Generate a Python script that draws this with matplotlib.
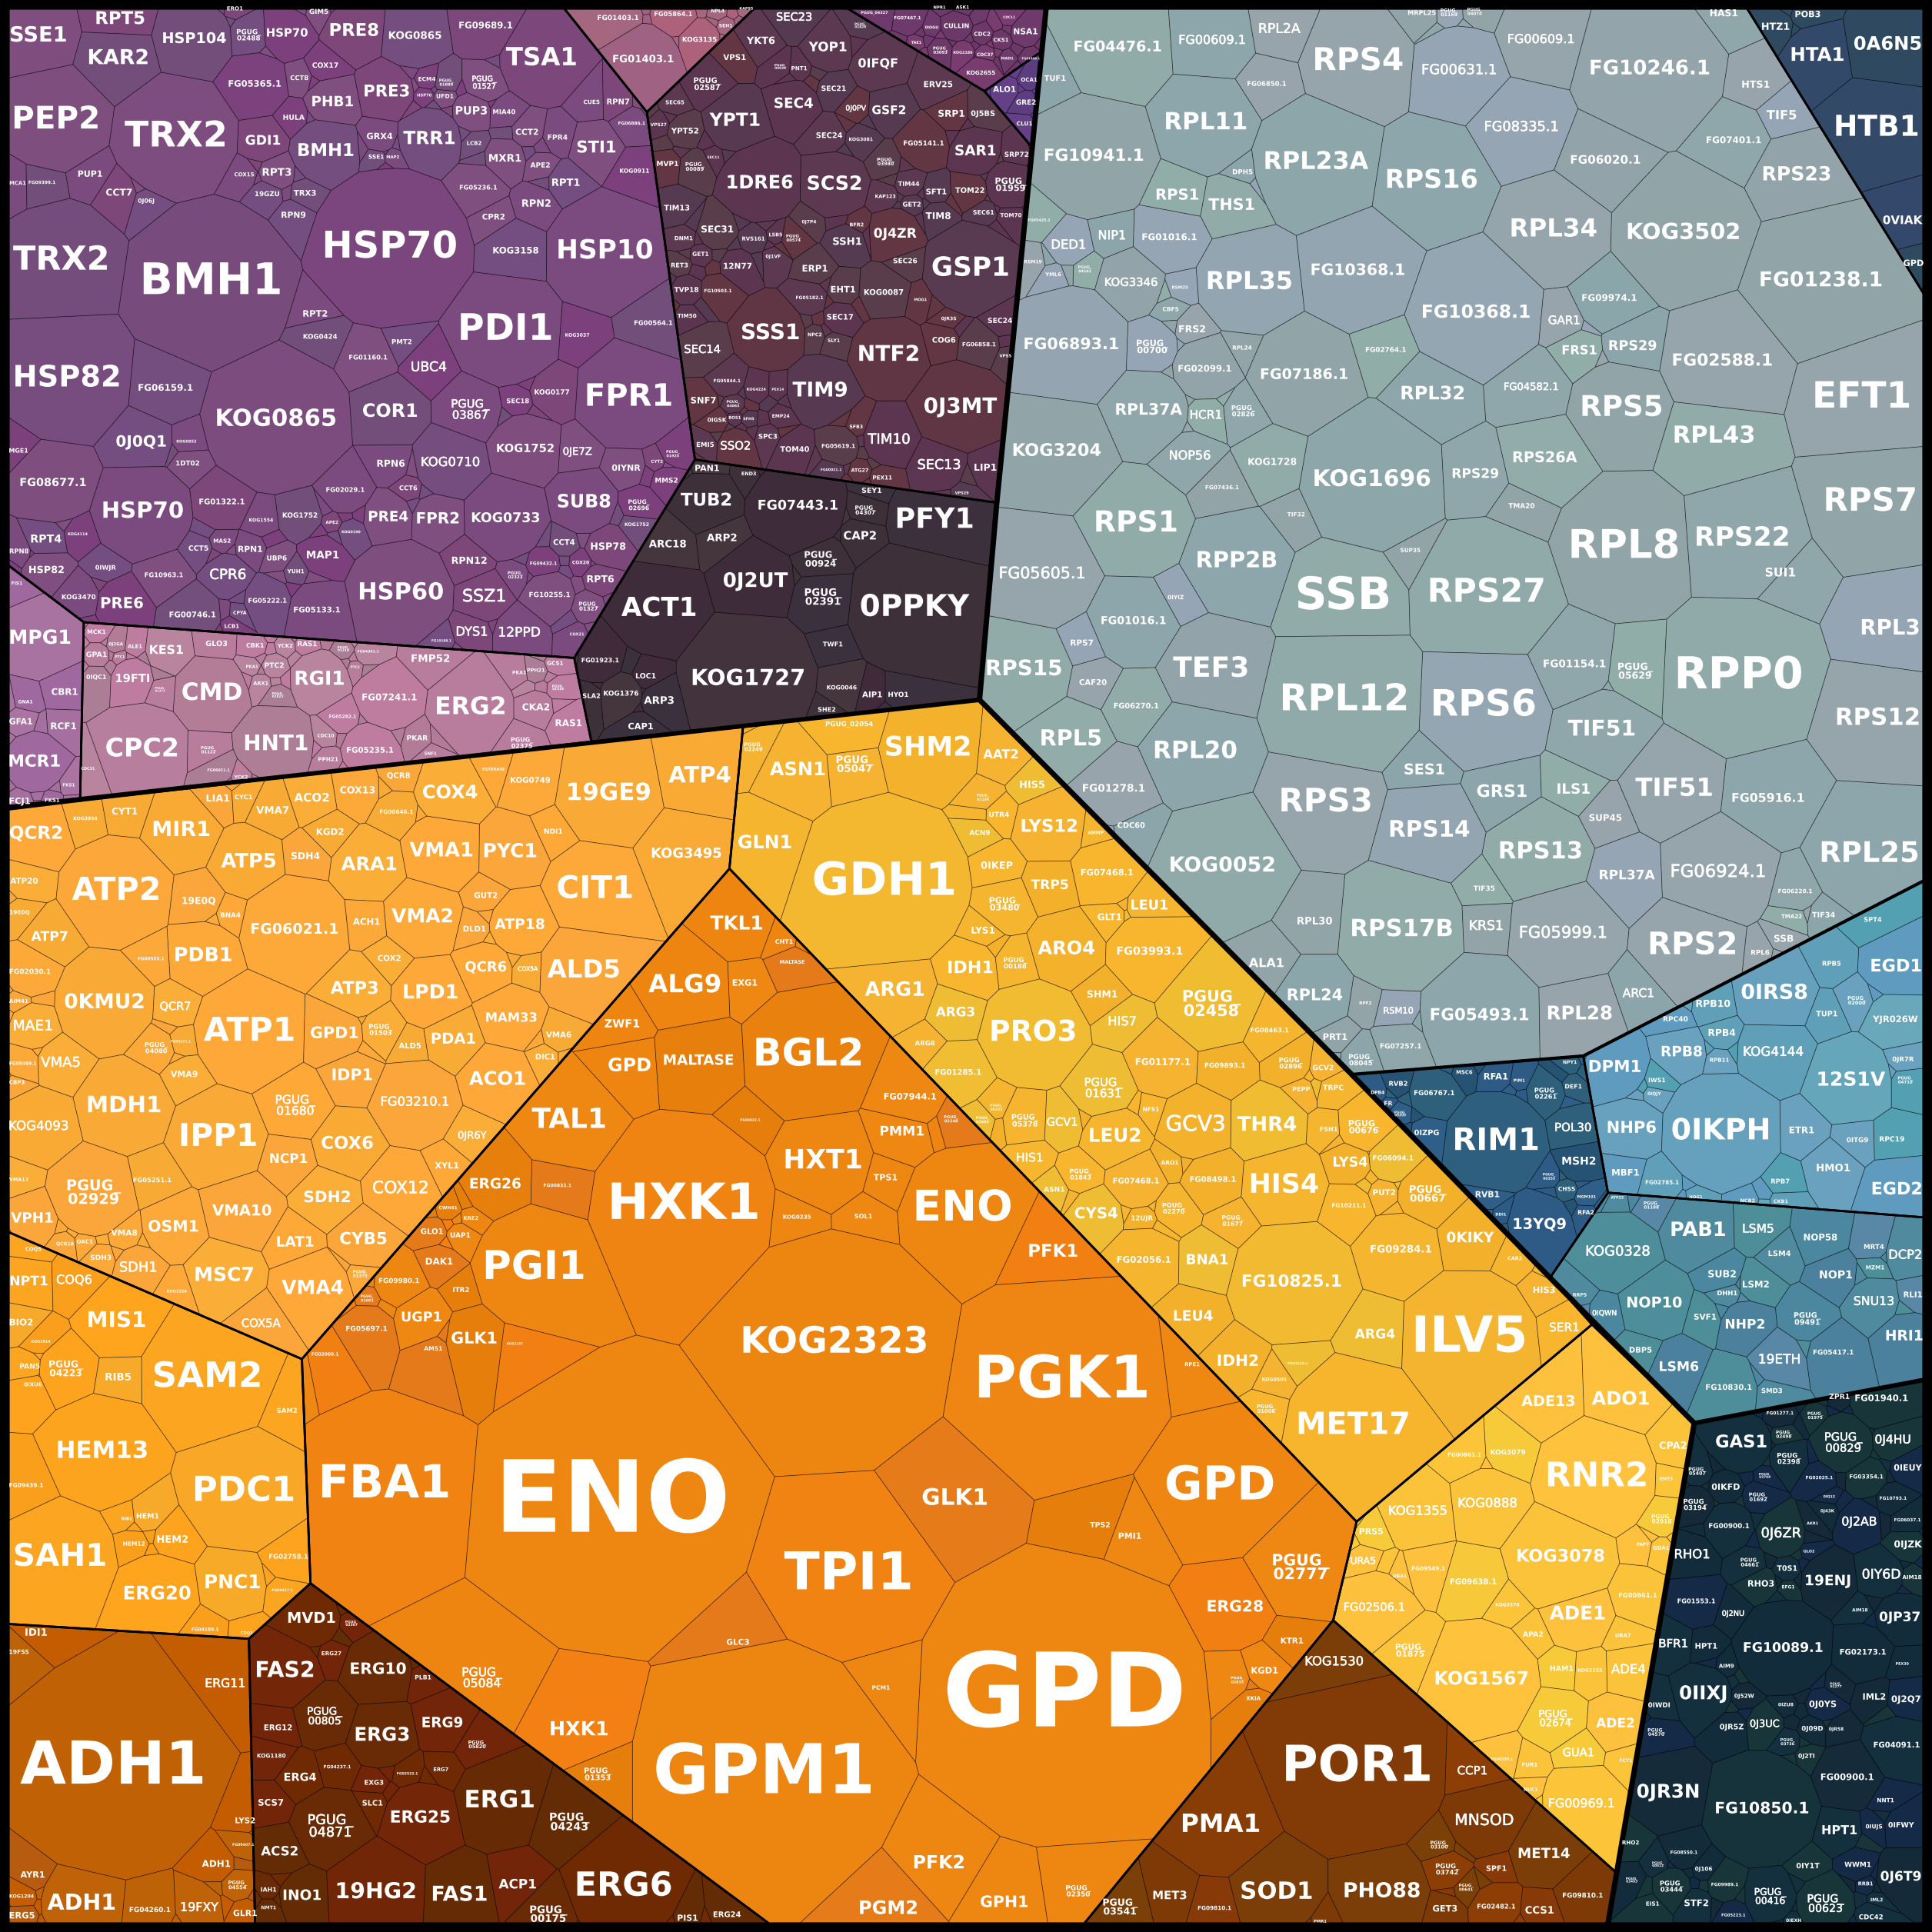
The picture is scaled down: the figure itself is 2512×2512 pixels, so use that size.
"""Voronoi treemap of yeast protein abundance, rebuilt as a weighted power diagram."""
import zlib

import matplotlib
matplotlib.use("Agg")
import matplotlib.pyplot as plt
import matplotlib.patheffects as pe
from matplotlib.colors import to_rgb
from matplotlib.font_manager import FontProperties
from matplotlib.path import Path
from matplotlib.textpath import TextPath
import numpy as np

SIZE = 2512
MAIN = SIZE / 1568

# ---- labels, one block per crop: name, label width, site
PURPLE_NAMES = [
    "SSE1", "RPT5", "KAR2", "HSP104", "PGUG_02488", "HSP70",
    "PRE8", "KOG0865", "FG09689.1", "TSA1", "ERO1", "GIM5",
    "COX17", "FG05365.1", "CCT8", "PRE3", "PHB1", "HULA",
    "ECM4", "PGUG_01889", "PGUG_01527", "UFD1", "HSP70", "PUP3",
    "MIA40", "CCT2", "CUE5", "RPN7", "FG06886.1", "FPR4",
    "STI1", "PEP2", "TRX2", "GDI1", "BMH1", "GRX4",
    "TRR1", "LCB2", "MXR1", "APE2", "KOG0911", "SSE1",
    "MAP2", "PUP1", "MCA1", "FG09399.1", "CCT7", "COX15",
    "RPT3", "19GZU", "TRX3", "RPT1", "FG05236.1", "RPN2",
    "0J06J", "RPN9", "CPR2", "TRX2", "BMH1", "HSP70",
    "KOG3158", "HSP10", "PDI1", "RPT2", "FG00564.1", "KOG3037",
    "HSP82", "KOG0424", "PMT2", "UBC4", "FG01160.1", "KOG0177",
    "FPR1", "FG06159.1", "SEC18", "COR1", "PGUG_03867", "KOG0865",
    "0J0Q1", "KOG1752", "0JE7Z", "MGE1", "KOG0852", "1DT02",
    "RPN6", "KOG0710", "0IYNR", "PGUG_01925", "CYT2", "MMS2",
    "FG08677.1", "SUB8", "PGUG_02696", "HSP70", "FG01322.1", "FG02029.1",
    "KOG0733", "PRE4", "FPR2", "KOG1752", "KOG1554", "APE2",
    "KOG0190", "KOG1752", "CCT6", "KOG4114", "RPT4", "CCT4",
    "MAS2", "CCT5", "RPN1", "HSP78", "RPN8", "HSP82",
    "0IWJR", "UBP6", "MAP1", "RPN12", "FG09432.1", "COX20",
    "CPR6", "FG10963.1", "YUH1", "RPT6", "HSP60", "SSZ1",
    "FG10255.1", "PGUG_02323", "PRE6", "KOG3470", "FG05222.1", "FG05133.1",
    "FG00746.1", "PGUG_01327", "FIS1", "CPYA", "DYS1", "12PPD",
    "LCB1", "COX21", "FG10188.1", "FG01403.1", "FG01403.1", "FG05864.1",
]
PURPLE_WIDTHS = [
    125, 108, 132, 142, 55, 92,
    108, 118, 120, 158, 35, 42,
    58, 118, 40, 100, 92, 48,
    38, 32, 55, 38, 32, 70,
    50, 50, 36, 50, 60, 44,
    86, 188, 226, 78, 124, 58,
    116, 32, 72, 44, 66, 34,
    28, 54, 36, 60, 58, 44,
    64, 54, 50, 62, 84, 64,
    36, 54, 50, 212, 308, 296,
    102, 212, 204, 54, 86, 54,
    234, 76, 44, 78, 86, 78,
    190, 122, 50, 122, 85, 268,
    112, 128, 64, 42, 44, 52,
    62, 130, 64, 30, 26, 50,
    148, 118, 48, 180, 102, 86,
    152, 88, 94, 78, 54, 28,
    42, 54, 40, 44, 68, 48,
    38, 44, 54, 78, 42, 78,
    46, 44, 72, 78, 60, 38,
    80, 86, 38, 60, 188, 94,
    92, 34, 94, 76, 86, 104,
    104, 44, 24, 30, 68, 92,
    32, 32, 44, 92, 136, 85,
]
PURPLE_SITES = [
    (87, 82), (272, 43), (268, 133), (440, 88), (563, 80), (650, 75),
    (802, 70), (940, 82), (1100, 58), (1227, 133), (532, 20), (722, 27),
    (737, 149), (577, 191), (678, 177), (876, 208), (753, 232), (665, 267),
    (967, 180), (1011, 187), (1097, 187), (1008, 218), (961, 216), (1068, 252),
    (1142, 254), (1194, 300), (1340, 232), (1400, 231), (1431, 280), (1263, 312),
    (1351, 335), (127, 272), (399, 310), (596, 319), (738, 342), (860, 310),
    (973, 315), (1074, 325), (1144, 360), (1224, 375), (1437, 387), (852, 356),
    (890, 356), (204, 395), (40, 415), (95, 414), (270, 437), (553, 396),
    (627, 391), (605, 440), (691, 438), (1282, 415), (1083, 425), (1215, 462),
    (331, 455), (665, 488), (1118, 492), (139, 590), (478, 640), (883, 560),
    (1168, 568), (1370, 569), (1145, 748), (714, 712), (1480, 732), (1307, 760),
    (152, 858), (725, 763), (910, 775), (971, 832), (834, 810), (1250, 889),
    (1424, 900), (375, 879), (1173, 909), (884, 932), (1065, 928), (625, 950),
    (320, 1002), (1190, 1016), (1308, 1024), (42, 1021), (422, 1000), (425, 1050),
    (885, 1051), (1020, 1048), (1418, 1061), (1524, 1028), (1488, 1046), (1510, 1089),
    (120, 1094), (1323, 1137), (1447, 1144), (323, 1159), (502, 1137), (782, 1110),
    (1145, 1174), (879, 1172), (992, 1176), (680, 1168), (591, 1179), (752, 1184),
    (795, 1205), (1442, 1189), (925, 1106), (176, 1210), (104, 1222), (1278, 1229),
    (503, 1226), (450, 1243), (567, 1245), (1377, 1239), (43, 1249), (105, 1292),
    (239, 1286), (627, 1265), (731, 1258), (1063, 1271), (1231, 1277), (1315, 1275),
    (516, 1303), (371, 1303), (670, 1295), (1360, 1313), (908, 1343), (1097, 1352),
    (1245, 1348), (1167, 1303), (276, 1368), (178, 1353), (606, 1361), (718, 1382),
    (436, 1393), (1333, 1374), (38, 1322), (543, 1389), (1069, 1432), (1176, 1433),
    (525, 1419), (1307, 1437), (1000, 1452), (1400, 41), (1457, 135), (1525, 32),
]

MAROON_NAMES = [
    "KOG3135", "SEH1", "NPL4", "KAP95", "SEC23", "YKT6",
    "YOP1", "VPS1", "0IFQF", "PGUG_04039", "PNT1", "PGUG_01828",
    "PGUG_02587", "SEC21", "SEC4", "SEC65", "GSF2", "0J0PV",
    "YPT1", "ERV25", "SRP1", "0J5BS", "VPS27", "YPT52",
    "SEC24", "KOG3081", "FG05141.1", "SAR1", "SRP72", "MVP1",
    "PGUG_00089", "PGUG_03980", "SEC11", "1DRE6", "SCS2", "TIM44",
    "SFT1", "TOM22", "PGUG_01959", "TIM13", "KAP123", "GET2",
    "TIM8", "SEC61", "TOM70", "SEC31", "RVS161", "LSB5",
    "PGUG_00574", "SSH1", "0J4ZR", "DNM1", "0J7P4", "BFR2",
    "GSP1", "GET1", "SEC26", "RET3", "12N77", "ERP1",
    "0J1VF", "TVP18", "FG10503.1", "EHT1", "KOG0087", "FG05182.1",
    "MOG1", "SEC17", "TIM50", "SEC24", "0JR3S", "SSS1",
    "COG6", "NPC2", "SLY1", "FG06858.1", "SEC14", "NTF2",
    "VPS5", "FG05844.1", "TIM9", "PEX14", "KOG4224", "SNF7",
    "PGUG_04063", "0J3MT", "0IGSK", "BOS1", "SFH5", "EMP24",
    "SFB3", "SPC3", "TIM10", "EMI5", "SSO2", "TOM40",
    "FG05619.1", "SEC13", "LIP1", "ATG27", "FG00021.1", "PEX11",
    "VPS29", "PGUG_04327", "FG07467.1", "CULLIN", "0IOGU", "PGUG_03093",
    "KOG2186", "CDC2", "CDC37", "NSA1", "CKS1", "TAE1",
    "MAD1", "KOG2655", "CDC11", "NPR1", "ASK1", "ALO1",
    "OCA1", "GRE2", "CLU1", "FG01808.1", "PAN1", "TUB2",
    "FG07443.1", "END3", "SEY1", "PGUG_04307", "PFY1",
]
MAROON_WIDTHS = [
    115, 44, 44, 45, 118, 95,
    128, 76, 132, 40, 52, 40,
    92, 82, 130, 62, 112, 68,
    170, 96, 88, 80, 54, 92,
    88, 80, 136, 136, 80, 72,
    64, 58, 40, 220, 180, 72,
    68, 98, 105, 86, 68, 60,
    84, 70, 72, 108, 76, 44,
    50, 96, 144, 60, 48, 46,
    256, 54, 80, 56, 94, 84,
    50, 82, 92, 82, 132, 92,
    42, 88, 64, 82, 50, 192,
    78, 46, 40, 112, 120, 200,
    40, 90, 184, 40, 64, 84,
    44, 246, 64, 40, 36, 58,
    44, 62, 142, 58, 98, 98,
    112, 142, 74, 58, 70, 64,
    46, 90, 90, 84, 44, 50,
    64, 54, 54, 80, 50, 34,
    40, 96, 40, 40, 44, 76,
    54, 66, 52, 60, 80, 170,
    268, 48, 66, 70, 255,
]
MAROON_SITES = [
    (286, 116), (375, 76), (348, 33), (445, 25), (608, 50), (495, 120),
    (723, 138), (406, 168), (893, 186), (561, 195), (625, 200), (833, 75),
    (312, 245), (742, 259), (606, 303), (202, 299), (930, 322), (817, 316),
    (407, 352), (1097, 247), (1142, 332), (1249, 331), (147, 364), (237, 382),
    (727, 395), (834, 407), (1047, 418), (1224, 441), (1364, 451), (178, 478),
    (270, 486), (918, 472), (333, 458), (491, 533), (745, 537), (998, 536),
    (1091, 559), (1205, 555), (1343, 539), (209, 606), (917, 573), (1008, 596),
    (1098, 630), (1251, 619), (1345, 628), (347, 669), (469, 696), (545, 685),
    (606, 694), (788, 705), (951, 681), (232, 695), (658, 647), (820, 656),
    (1207, 782), (290, 741), (985, 761), (218, 773), (416, 776), (678, 783),
    (536, 748), (242, 845), (349, 848), (774, 845), (912, 852), (660, 868),
    (1037, 873), (764, 924), (244, 921), (1307, 935), (1133, 929), (527, 970),
    (1117, 991), (678, 976), (742, 993), (1236, 1004), (296, 1018), (929, 1033),
    (1326, 1037), (380, 1110), (696, 1139), (552, 1135), (479, 1134), (299, 1167),
    (400, 1176), (1172, 1185), (345, 1224), (406, 1217), (453, 1220), (562, 1213),
    (819, 1244), (518, 1272), (930, 1281), (305, 1296), (409, 1299), (610, 1309),
    (758, 1300), (1100, 1355), (1257, 1363), (831, 1371), (733, 1368), (907, 1392),
    (1178, 1436), (880, 38), (993, 53), (1159, 76), (1075, 80), (1105, 147),
    (1181, 153), (1247, 100), (1256, 160), (1394, 93), (1311, 117), (1023, 124),
    (1332, 170), (1242, 213), (1338, 51), (1102, 22), (1180, 22), (1323, 261),
    (1406, 233), (1396, 299), (1390, 361), (1412, 171), (312, 1365), (310, 1458),
    (620, 1473), (454, 1381), (871, 1430), (850, 1487), (1085, 1515),
]

NAVY_NAMES = [
    "GAS1", "PGUG_00829", "0J4HU", "PGUG_02398", "PGUG_02498", "0IEUY",
    "FG03354.1", "FG02025.1", "PGUG_05407", "0IKFD", "PGUG_03794", "PGUG_01692",
    "PGUG_03194", "FG10793.1", "FG00900.1", "0J2AB", "0J6ZR", "FG06037.1",
    "RHO1", "0IJZK", "PGUG_04661", "T0S1", "19ENJ", "0IY6D",
    "AIM18", "RHO3", "EFG1", "FG01553.1", "0J2NU", "AIM18",
    "0JP37", "BFR1", "HPT1", "FG10089.1", "FG02173.1", "AIM9",
    "0IIXJ", "0J52W", "PGUG_01277", "IML2", "0J2Q7", "0IWDI",
    "0IZU8", "0J0YS", "PGUG_04570", "0JR5Z", "0J3UC", "0J09D",
    "0JR58", "PGUG_03736", "FG04091.1", "0J2TI", "0JR3N", "FG00900.1",
    "FG10850.1", "HPT1", "NNT1", "0IFWY", "0IUJS", "RHO2",
    "FG08550.1", "WWM1", "0IY1T", "0J106", "0J6T9", "PGUG_03444",
    "FG09989.1", "RRB1", "PGUG_00416", "PGUG_00623", "EIS1", "STF2",
    "IML2", "FG05223.1", "CDC42", "0IEXH", "ZPR1", "FG01940.1",
    "FG01277.1", "PGUG_01975", "0J43K", "GLO2", "0IQ12", "AKR1",
    "PEX30", "PGUG_03493", "PGUG_00512",
]
NAVY_WIDTHS = [
    196, 145, 135, 92, 62, 108,
    130, 104, 68, 108, 46, 72,
    92, 104, 156, 132, 152, 102,
    132, 108, 72, 78, 172, 146,
    74, 100, 48, 146, 84, 60,
    156, 108, 84, 306, 178, 58,
    180, 76, 46, 86, 112, 84,
    58, 104, 66, 92, 112, 82,
    56, 56, 178, 62, 238, 204,
    360, 134, 64, 100, 64, 64,
    104, 102, 90, 66, 156, 90,
    104, 56, 122, 140, 50, 92,
    46, 92, 92, 58, 78, 204,
    104, 60, 54, 42, 44, 44,
    50, 46, 46,
]
NAVY_SITES = [
    (792, 166), (1190, 167), (1383, 159), (977, 213), (958, 144), (1441, 240),
    (1280, 265), (1096, 268), (620, 250), (731, 295), (884, 262), (858, 323),
    (612, 345), (1384, 327), (743, 406), (1252, 394), (947, 427), (1440, 389),
    (600, 488), (1441, 459), (825, 510), (971, 527), (1130, 563), (1338, 545),
    (1458, 553), (868, 572), (975, 581), (617, 621), (760, 656), (1255, 647),
    (1411, 667), (527, 743), (655, 750), (955, 755), (1266, 767), (734, 807),
    (644, 886), (803, 893), (1161, 862), (1310, 896), (1435, 902), (471, 919),
    (965, 918), (1110, 917), (460, 997), (754, 981), (883, 973), (1069, 986),
    (1162, 988), (973, 1024), (1398, 1033), (1047, 1064), (507, 1168), (1204, 1125),
    (873, 1216), (1175, 1278), (1355, 1192), (1415, 1263), (1310, 1267), (360, 1313),
    (568, 1341), (1247, 1376), (1052, 1379), (645, 1388), (1415, 1410), (520, 1438),
    (727, 1433), (1277, 1430), (905, 1467), (1120, 1488), (446, 1488), (617, 1486),
    (1320, 1477), (762, 1520), (1298, 1526), (996, 1536), (1175, 36), (1338, 40),
    (943, 83), (1080, 90), (1128, 363), (1056, 478), (1135, 321), (1070, 398),
    (1420, 800), (365, 1420), (467, 1375),
]

BROWN_NAMES = [
    "PDC1", "SAH1", "HEM1", "HEM2", "HEM12", "ERG20",
    "PNC1", "FG02758.1", "FG09417.1", "FG04189.1", "COQ3", "FG09439.1",
    "RIB1", "IDI1", "19FSS", "ADH1", "ERG11", "MVD1",
    "PGUG_02307", "FAS2", "ERG27", "ERG10", "PLB1", "PGUG_00805",
    "ERG12", "ERG3", "ERG9", "PGUG_05820", "KOG1180", "ERG4",
    "FG04237.1", "ERG7", "EXG3", "FG02522.1", "SCS7", "SLC1",
    "PGUG_04871", "ERG25", "ERG1", "ACS2", "LYS2", "FG09407.1",
    "ADH1", "PGUG_04554", "AYR1", "KOG1204", "ADH1", "FG04260.1",
    "19FXY", "GLR1", "ERG5", "INO1", "19HG2", "FAS1",
    "ACP1", "IAH1", "NMT1",
]
BROWN_WIDTHS = [
    285, 262, 64, 88, 62, 192,
    158, 112, 60, 78, 34, 98,
    30, 62, 56, 530, 112, 136,
    36, 164, 56, 160, 46, 100,
    80, 154, 116, 52, 82, 92,
    78, 42, 54, 60, 72, 58,
    130, 170, 196, 106, 56, 62,
    82, 54, 70, 70, 196, 118,
    108, 68, 72, 108, 226, 156,
    108, 44, 42,
]
BROWN_SITES = [
    (710, 100), (175, 320), (430, 184), (503, 262), (390, 276), (457, 442),
    (677, 405), (840, 318), (822, 429), (597, 561), (718, 572), (76, 81),
    (369, 192), (105, 572), (55, 635), (330, 1020), (656, 741), (907, 524),
    (1024, 541), (830, 698), (965, 641), (1101, 694), (1232, 720), (945, 850),
    (810, 888), (1113, 913), (1288, 873), (1390, 945), (790, 982), (874, 1053),
    (982, 1019), (1284, 1027), (1089, 1071), (1186, 1040), (789, 1138), (1085, 1139),
    (962, 1217), (1224, 1188), (1455, 1131), (815, 1300), (714, 1198), (709, 1277),
    (630, 1342), (692, 1412), (95, 1379), (62, 1450), (238, 1473), (436, 1495),
    (580, 1487), (714, 1507), (64, 1515), (880, 1447), (1095, 1435), (1338, 1446),
    (1508, 1410), (782, 1427), (782, 1488),
]

ATP_NAMES = [
    "QCR2", "MIR1", "KOG3954", "CYT1", "LIA1", "CYC1",
    "VMA7", "ACO2", "KGD2", "NDI1", "PYC1", "VMA1",
    "ARA1", "ATP5", "SDH4", "ATP2", "ATP20", "19E0Q",
    "BNA4", "GUT2", "ATP18", "VMA2", "ACH1", "FG06021.1",
    "DLD1", "19E0Q", "ATP7", "PDB1", "COX2", "FG09555.1",
    "QCR6", "COX5A", "ATP3", "LPD1", "FG02030.1", "0KMU2",
    "QCR7", "MAM33", "AIM41", "ATP1", "GPD1", "PGUG_01503",
    "PDA1", "ALD5", "VMA6", "MAE1", "PGUG_04080", "FG05171.1",
    "VMA5", "VMA9", "FG08489.1", "IDP1", "ACO1", "DIC1",
    "CBP3", "MDH1", "PGUG_01680", "FG03210.1", "KOG4093", "IPP1",
    "0JR6Y", "COX6", "NCP1", "FG05251.1", "PGUG_02929", "XYL1",
    "VMA13", "COX12", "SDH2", "VMA10", "VPH1", "OSM1",
    "VMA8", "LAT1", "CYB5", "OAC1", "QCR10", "MSC7",
    "SDH3", "SDH1", "VMA4", "COX5A", "KOG1526", "PGUG_03375",
    "NPT1", "COQ6", "COQ5", "MIS1", "BIO2", "SAM2",
    "PGUG_04223", "RIB5", "PAN5", "0IXU6", "KOG2914", "TAL1",
    "ERG26", "PGI1", "GLO1", "UAP1", "KRE2", "CWH41",
    "DAK1", "FG09980.1", "ITR2", "UGP1", "FG05697.1", "GLK1",
    "AMS1", "FG02060.1", "PGUG_01001", "FG00832.1", "KOG1187",
]
ATP_WIDTHS = [
    132, 142, 60, 64, 58, 44,
    82, 88, 68, 46, 132, 160,
    140, 138, 72, 220, 70, 84,
    50, 58, 126, 154, 68, 220,
    56, 50, 92, 142, 58, 66,
    104, 50, 120, 136, 104, 200,
    76, 128, 48, 228, 120, 60,
    110, 56, 64, 96, 58, 50,
    98, 68, 68, 100, 142, 48,
    38, 184, 100, 170, 148, 190,
    72, 130, 94, 96, 136, 60,
    48, 138, 116, 150, 106, 126,
    66, 92, 118, 40, 44, 146,
    52, 92, 156, 98, 50, 38,
    94, 88, 40, 144, 58, 268,
    86, 64, 50, 44, 48, 186,
    128, 248, 56, 50, 36, 46,
    68, 102, 40, 100, 104, 114,
    46, 68, 34, 70, 40,
]
ATP_SITES = [
    (92, 106), (462, 98), (217, 68), (318, 50), (555, 17), (621, 13),
    (695, 48), (795, 15), (841, 102), (1410, 101), (1300, 152), (1125, 150),
    (941, 185), (634, 178), (778, 164), (297, 253), (62, 227), (506, 278),
    (587, 314), (1238, 264), (1325, 338), (1077, 318), (934, 331), (750, 350),
    (1209, 349), (50, 307), (127, 369), (518, 417), (992, 424), (385, 425),
    (1238, 447), (1345, 450), (904, 502), (1097, 512), (76, 458), (267, 537),
    (447, 547), (1303, 576), (48, 533), (636, 610), (852, 615), (970, 606),
    (1155, 630), (1045, 647), (1424, 619), (84, 596), (398, 652), (461, 636),
    (155, 690), (470, 720), (58, 692), (897, 722), (1268, 732), (1389, 675),
    (43, 740), (316, 800), (752, 799), (1057, 790), (98, 851), (556, 880),
    (1203, 876), (885, 896), (735, 935), (388, 989), (238, 1022), (1139, 953),
    (48, 988), (1021, 1010), (834, 1034), (617, 1068), (82, 1087), (442, 1109),
    (317, 1124), (752, 1148), (926, 1140), (216, 1146), (165, 1152), (571, 1232),
    (257, 1187), (352, 1212), (797, 1265), (665, 1354), (450, 1272), (918, 1228),
    (74, 1247), (189, 1244), (85, 1165), (297, 1347), (54, 1352), (528, 1491),
    (168, 1470), (301, 1492), (76, 1464), (84, 1510), (104, 1400), (1451, 836),
    (1262, 999), (1361, 1213), (1101, 1120), (1173, 1130), (1200, 1086), (1142, 1060),
    (1119, 1197), (1016, 1246), (1175, 1269), (1074, 1339), (934, 1368), (1208, 1393),
    (1104, 1418), (828, 1433), (936, 1290), (1420, 1003), (1312, 1406),
]

GOLD_NAMES = [
    "PGUG_02249", "ASN1", "PGUG_02054", "PGUG_05047", "SHM2", "AAT2",
    "HIS5", "GLN1", "LYS12", "GDH1", "0IKEP", "FG07468.1",
    "TRP5", "ACN9", "UTR4", "PGUG_02184", "PGUG_03480", "LEU1",
    "GLT1", "LYS1", "AMMP", "ARO4", "FG03993.1", "IDH1",
    "PGUG_00188", "ARG1", "SHM1", "PGUG_02458", "ARG3", "PRO3",
    "HIS7", "FG08463.1", "ARG8", "FG01177.1", "PGUG_02896", "GCV2",
    "FG09893.1", "FG01285.1", "PGUG_01631", "PEPP", "TRPC", "NFS1",
    "PGUG_05378", "GCV1", "GCV3", "THR4", "LEU2", "PGUG_00223",
    "PGUG_02686", "FSH1", "HIS1", "ARO1", "FG08498.1", "HIS4",
    "ASN1", "PGUG_01843", "FG07468.1", "PGUG_02270", "PGUG_01677", "CYS4",
    "12UJR", "BNA1", "FG02056.1", "FG10825.1", "CHT1", "MALTASE",
    "EXG1", "BGL2", "FG07944.1", "PMM1", "PGUG_02348", "HXT1",
    "TPS1", "FG08822.1", "ENO", "KOG0235", "SOL1", "PFK1",
]
GOLD_WIDTHS = [
    48, 140, 120, 94, 212, 88,
    62, 134, 140, 356, 80, 132,
    94, 52, 50, 32, 78, 92,
    60, 58, 40, 144, 166, 112,
    60, 150, 76, 146, 98, 212,
    68, 96, 50, 138, 60, 52,
    102, 116, 96, 44, 52, 40,
    68, 76, 146, 150, 128, 32,
    34, 44, 64, 44, 116, 170,
    52, 56, 116, 58, 54, 108,
    54, 104, 136, 250, 44, 62,
    62, 266, 132, 110, 36, 192,
    60, 50, 240, 70, 44, 122,
]
GOLD_SITES = [
    (58, 140), (171, 198), (302, 82), (316, 185), (503, 142), (689, 160),
    (768, 237), (87, 384), (812, 343), (392, 484), (678, 443), (959, 461),
    (814, 492), (635, 359), (684, 313), (643, 268), (698, 541), (1067, 544),
    (966, 574), (643, 608), (930, 359), (856, 654), (1068, 661), (610, 704),
    (725, 691), (419, 760), (947, 771), (1225, 795), (573, 816), (771, 869),
    (998, 840), (1373, 862), (495, 895), (1101, 943), (1427, 946), (1510, 958),
    (1259, 952), (580, 969), (950, 1009), (1454, 1012), (1536, 1009), (1071, 1064),
    (750, 1092), (845, 1096), (1185, 1102), (1367, 1104), (979, 1132), (677, 1058),
    (642, 1090), (1524, 1114), (762, 1187), (1119, 1200), (1229, 1242), (1410, 1256),
    (825, 1268), (892, 1229), (1033, 1246), (1129, 1316), (1279, 1347), (932, 1330),
    (1048, 1341), (1214, 1448), (1053, 1447), (1430, 1503), (136, 636), (157, 688),
    (36, 742), (198, 924), (457, 1032), (437, 1120), (562, 1088), (235, 1194),
    (395, 1238), (50, 1091), (591, 1317), (169, 1338), (338, 1336), (822, 1426),
]

BLUE_NAMES = [
    "RPS13", "RPL25", "RPL37A", "FG06924.1", "TIF35", "FG06220.1",
    "RPS17B", "KRS1", "FG05999.1", "RPS2", "TMA22", "TIF34",
    "SSB", "RPL6", "ARC1", "RSM10", "FG05493.1", "RPL28",
    "RPF2", "PRT1", "FG07257.1", "PGUG_08045", "0IRS8", "EGD1",
    "RPB5", "RPB10", "RPC40", "TUP1", "PGUG_02000", "YJR026W",
    "RPB8", "RPB4", "KOG4144", "DPM1", "RPB11", "12S1V",
    "SPT4", "IWS1", "0IQJY", "PGUG_04710", "0JR7R", "NHP6",
    "0IKPH", "ETR1", "RPC19", "0ITG9", "HMO1", "MBF1",
    "FG02785.1", "RPB7", "EGD2", "HOG1", "NCB2", "CKB1",
    "DPB4", "RVB2", "FG06767.1", "FR", "MSC6", "RFA1",
    "PIM1", "DEF1", "NPY1", "PGUG_02261", "PGUG_05205", "0IZPG",
    "RIM1", "POL30", "MSH2", "PGUG_00355", "RVB1", "CHS5",
    "MGM101", "13YQ9", "RFA2", "DDI1", "PAB1", "LSM5",
    "NOP58", "KOG0328", "MRT4", "DCP2", "LSM4", "SUB2",
    "NOP1", "MZM1", "LSM2", "DHH1", "NOP10", "SNU13",
    "RLI1", "0IQWN", "SVF1", "NHP2", "PGUG_09491", "HRI1",
    "DBP5", "LSM6", "19ETH", "FG05417.1", "FG10830.1", "SMD3",
    "RRP5", "PGUG_01188", "ATP25", "LYS4", "FG06094.1", "PGUG_00676",
    "PUT2", "PGUG_00667", "FG10211.1", "0KIKY", "FG09284.1", "CAR2",
]
BLUE_WIDTHS = [
    206, 244, 140, 236, 54, 86,
    254, 82, 218, 216, 52, 58,
    48, 46, 78, 74, 248, 162,
    30, 60, 104, 62, 166, 126,
    46, 86, 62, 54, 46, 114,
    102, 68, 150, 130, 48, 170,
    44, 42, 34, 38, 54, 122,
    244, 62, 62, 54, 84, 68,
    84, 46, 124, 32, 36, 36,
    34, 46, 102, 20, 40, 60,
    28, 42, 34, 58, 30, 62,
    210, 90, 84, 32, 60, 42,
    46, 132, 40, 26, 136, 76,
    84, 160, 50, 80, 56, 70,
    82, 46, 66, 50, 138, 100,
    46, 60, 56, 98, 68, 92,
    56, 98, 102, 102, 116, 52,
    34, 40, 32, 86, 102, 78,
    56, 94, 86, 120, 154, 36,
]
BLUE_SITES = [
    (570, 15), (1408, 20), (790, 75), (1023, 66), (427, 109), (1219, 116),
    (217, 213), (432, 204), (628, 222), (958, 254), (1210, 180), (1292, 176),
    (1190, 237), (1130, 272), (820, 376), (208, 421), (415, 432), (670, 428),
    (124, 401), (47, 488), (214, 511), (112, 546), (1166, 376), (1476, 308),
    (1312, 300), (1010, 403), (914, 442), (1300, 428), (1376, 394), (1474, 442),
    (930, 525), (1032, 477), (1163, 525), (760, 564), (1026, 546), (1361, 597),
    (1417, 188), (867, 597), (860, 632), (1500, 597), (1494, 544), (802, 719),
    (1030, 728), (1236, 725), (1466, 748), (1378, 750), (1316, 822), (787, 833),
    (880, 858), (1181, 855), (1478, 876), (966, 895), (1098, 905), (1183, 907),
    (155, 629), (208, 606), (299, 630), (182, 656), (376, 577), (456, 588),
    (516, 598), (654, 613), (645, 552), (584, 631), (213, 683), (280, 731),
    (457, 753), (653, 718), (668, 804), (592, 842), (435, 889), (637, 875),
    (688, 894), (568, 965), (686, 934), (469, 939), (972, 980), (1125, 976),
    (1284, 998), (767, 1034), (1420, 1022), (1500, 1043), (1179, 1039), (1033, 1092),
    (1323, 1094), (1423, 1075), (1119, 1118), (1046, 1140), (860, 1165), (1420, 1161),
    (1519, 1144), (733, 1191), (990, 1201), (1092, 1220), (1250, 1205), (1497, 1249),
    (825, 1285), (923, 1328), (1179, 1309), (1316, 1291), (1050, 1380), (1160, 1389),
    (670, 1145), (853, 916), (766, 896), (85, 807), (194, 796), (120, 717),
    (172, 884), (283, 888), (82, 917), (391, 999), (214, 1029), (505, 1052),
]

PINK_NAMES = [
    "MPG1", "CBR1", "GNA1", "GFA1", "RCF1", "MCR1",
    "FKS1", "FKS1", "FCJ1", "MCK1", "ALE1", "0J2GA",
    "KES1", "GPA1", "PTC1", "GLO3", "CBK1", "YCK2",
    "RAS1", "PGUG_01318", "FG04361.1", "FMP52", "GCS1", "PTC2",
    "PKA1", "RGI1", "PTC2", "0IQC1", "19FTI", "CMD",
    "ARX1", "PGUG_01371", "PGUG_01821", "FG07241.1", "ERG2", "CKA2",
    "PGUG_01316", "FG05282.1", "RAS1", "PKAR", "CPC2", "PGUG_01122",
    "HNT1", "CDC10", "FG05235.1", "PGUG_02375", "SNF1", "PPH21",
    "FG06011.1", "YCK2", "CDC31", "PPH21", "PKA1", "COX4",
    "QCR8", "COX13", "FG00646.1", "ESTERASE", "KOG0749",
]
PINK_WIDTHS = [
    152, 66, 36, 58, 64, 128,
    30, 36, 52, 46, 36, 36,
    84, 52, 24, 54, 44, 38,
    48, 30, 54, 96, 40, 48,
    30, 122, 22, 50, 84, 150,
    38, 26, 30, 138, 172, 68,
    30, 68, 66, 52, 180, 38,
    158, 42, 118, 56, 30, 50,
    56, 34, 34, 44, 34, 138,
    58, 88, 84, 56, 100,
]
PINK_SITES = [
    (102, 330), (165, 540), (65, 579), (53, 656), (162, 674), (88, 812),
    (175, 903), (133, 962), (50, 967), (246, 305), (344, 362), (295, 353),
    (424, 377), (246, 395), (305, 402), (552, 351), (650, 358), (727, 360),
    (783, 353), (875, 372), (938, 381), (1097, 410), (1415, 428), (699, 437),
    (642, 441), (814, 490), (905, 443), (245, 481), (338, 487), (540, 545),
    (665, 506), (408, 530), (708, 552), (992, 561), (1199, 600), (1366, 600),
    (1422, 523), (873, 636), (1449, 662), (1063, 720), (362, 762), (531, 766),
    (703, 742), (830, 711), (943, 767), (1330, 738), (1097, 780), (836, 803),
    (557, 844), (614, 873), (224, 838), (1366, 456), (1323, 465), (1147, 933),
    (1016, 866), (911, 924), (1010, 1008), (1258, 841), (1351, 884),
]

YELLOW_NAMES = [
    "LEU4", "IDH2", "KOG0505", "PGUG_01006", "FG01210.1", "ARG4",
    "ILV5", "SER1", "HIS3", "RPE1", "MET17", "ADE13",
    "ADO1", "CPA2", "RNR2", "FG00861.1", "KOG3079", "KOG0888",
    "KOG1355", "ENT3", "PGUG_02918", "KOG3078", "PRS5", "URA5",
    "FG09549.1", "FG09638.1", "URA1", "FG02506.1", "FG00861.1", "ADE1",
    "KOG3370", "PGUG_01875", "APA2", "KOG1567", "URA7", "ADE4",
    "HAM1", "KOG2555", "PGUG_02674", "ADE2", "GUA1", "FG00299.1",
    "FUR1", "NUC1", "FG00969.1", "FCY1", "GDA1", "FAP7",
    "GPD", "PGUG_02777", "ERG28", "KTR1", "KGD1", "XKIA",
    "PGUG_02835", "KOG1530", "POR1", "CCP1", "PMA1", "MNSOD",
    "PGUG_03100", "PGUG_03742", "SPF1", "MET14", "SOD1", "PHO88",
    "MET3", "PGUG_00641", "GET3", "FG02482.1", "CCS1", "FG09810.1",
    "FG09810.1", "PMR1",
]
YELLOW_WIDTHS = [
    112, 116, 70, 54, 58, 116,
    316, 84, 62, 42, 318, 154,
    166, 78, 284, 96, 100, 168,
    166, 36, 60, 252, 68, 70,
    96, 134, 40, 174, 110, 160,
    68, 86, 58, 268, 44, 98,
    66, 70, 96, 110, 88, 62,
    44, 40, 188, 36, 46, 34,
    310, 165, 160, 64, 76, 42,
    38, 166, 418, 84, 222, 166,
    52, 68, 58, 148, 204, 218,
    96, 42, 70, 110, 82, 116,
    96, 36,
]
YELLOW_SITES = [
    (115, 112), (245, 219), (351, 262), (328, 331), (420, 224), (645, 155),
    (920, 163), (1196, 139), (1137, 51), (112, 226), (581, 370), (1150, 314),
    (1361, 308), (1513, 419), (1290, 491), (905, 440), (1032, 434), (972, 554),
    (769, 573), (1493, 497), (1480, 592), (1185, 681), (633, 622), (610, 691),
    (800, 709), (931, 740), (716, 727), (642, 800), (1410, 772), (1235, 816),
    (1030, 795), (747, 903), (1105, 865), (955, 970), (1367, 867), (1383, 948),
    (1188, 946), (1271, 950), (1170, 1064), (1345, 1075), (1237, 1144), (1015, 1159),
    (1095, 1173), (1098, 1232), (1246, 1265), (1375, 1163), (1478, 660), (1425, 652),
    (193, 515), (428, 708), (237, 800), (403, 880), (323, 951), (290, 1016),
    (244, 972), (525, 929), (593, 1178), (928, 1187), (195, 1314), (963, 1305),
    (832, 1363), (855, 1420), (998, 1418), (1136, 1384), (358, 1474), (665, 1473),
    (47, 1482), (910, 1463), (849, 1514), (998, 1508), (1124, 1518), (1249, 1482),
    (177, 1512), (485, 1543),
]

RIBO_NAMES = [
    "FG04476.1", "FG00609.1", "RPL2A", "RPS4", "FG00631.1", "FG00609.1",
    "TUF1", "FG06850.1", "RPL11", "FG08335.1", "FG10941.1", "RPL23A",
    "DPH5", "RPS16", "RPS1", "THS1", "RPL34", "FG05425.1",
    "DED1", "NIP1", "FG01016.1", "KOG3346", "RPL35", "FG10368.1",
    "RSM19", "YML6", "PGUG_04161", "FG10368.1", "GAR1", "FRS2",
    "CBF5", "RSM25", "FG06893.1", "PGUG_00700", "FRS1", "FG02099.1",
    "RPL24", "FG07186.1", "FG02764.1", "RPL32", "FG04582.1", "RPL37A",
    "HCR1", "PGUG_02826", "KOG3204", "NOP56", "KOG1728", "KOG1696",
    "RPS29", "RPS26A", "FG07436.1", "TMA20", "TIF32", "RPS1",
    "RPP2B", "SUP35", "FG05605.1", "0IYIZ", "SSB", "RPS27",
    "MRPL25", "PGUG_01169", "PGUG_04074",
]
RIBO_WIDTHS = [
    220, 166, 104, 222, 186, 166,
    54, 98, 204, 184, 250, 262,
    50, 228, 106, 116, 216, 56,
    84, 66, 138, 132, 212, 236,
    44, 40, 34, 272, 78, 66,
    40, 40, 238, 80, 86, 134,
    48, 220, 102, 158, 136, 168,
    78, 60, 222, 102, 122, 294,
    116, 162, 84, 66, 44, 204,
    200, 50, 214, 40, 230, 288,
    70, 44, 38,
]
RIBO_SITES = [
    (300, 120), (541, 103), (712, 74), (913, 157), (1170, 179), (1379, 101),
    (141, 200), (680, 214), (525, 313), (1329, 324), (240, 398), (805, 414),
    (618, 439), (1100, 460), (452, 498), (591, 523), (1411, 586), (100, 561),
    (175, 625), (286, 601), (432, 605), (334, 720), (636, 720), (912, 690),
    (84, 668), (136, 700), (217, 686), (1213, 796), (1438, 817), (490, 840),
    (435, 789), (459, 733), (182, 878), (388, 885), (1477, 894), (522, 940),
    (617, 887), (775, 955), (983, 892), (1103, 1004), (1354, 987), (379, 1046),
    (525, 1058), (620, 1048), (145, 1150), (484, 1162), (694, 1178), (948, 1222),
    (1212, 1208), (1388, 1167), (566, 1243), (1330, 1290), (755, 1312), (347, 1335),
    (603, 1430), (1046, 1403), (108, 1462), (448, 1523), (875, 1520), (1240, 1510),
    (1075, 33), (1145, 33), (1210, 30),
]

WHOLE_NAMES = [
    "ARC18", "ARP2", "CAP2", "0J2UT", "PGUG_00924", "PGUG_02391",
    "0PPKY", "ACT1", "KOG1727", "FG01923.1", "ARP3", "CAP1",
    "LOC1", "KOG1376", "SLA2", "SHE2", "AIP1", "HYO1",
    "TWF1", "KOG0046", "ERG6", "PGUG_04243", "PGUG_00175", "ERG24",
    "PIS1", "19GE9", "ATP4", "KOG3495", "CIT1", "ALD5",
    "HEM13", "SAM2", "ALG9", "ZWF1", "GPD", "MALTASE",
    "HXK1", "KOG2323", "PGK1", "FBA1", "ENO", "GLK1",
    "TPI1", "GPD", "GPM1", "PGUG_05084", "HXK1", "PFK2",
    "PGM2", "GPH1", "PGUG_01353", "TPS2", "PMI1", "GLC3",
    "PCM1", "TKL1", "PGUG_02350", "PGUG_03541", "FG10246.1", "FG06020.1",
    "RPS23", "KOG3502", "FG01238.1", "FG09974.1", "RPS29", "FG02588.1",
    "RPS5", "EFT1", "RPL43", "RPS7", "RPL8", "RPS22",
    "SUI1", "RPL3", "RPP0", "RPS12", "RPS3", "RPS6",
    "RPL12", "TIF51", "TIF51", "FG05916.1", "FG01154.1", "PGUG_05629",
    "SES1", "GRS1", "ILS1", "RPS14", "RPL30", "ALA1",
    "RPL24", "SUP45", "KOG0052", "RPL20", "FG01278.1", "CDC60",
    "RPL5", "RPS15", "CAF20", "RPS7", "FG06270.1", "TEF3",
    "FG01016.1", "TIF5", "HTS1", "FG07401.1", "HTA1", "0A6N5",
    "HTB1", "0VIAK", "HTZ1", "POB3", "HAS1", "GPD",
]
WHOLE_WIDTHS = [
    30, 24, 26, 52, 26, 30,
    88, 60, 90, 30, 24, 20,
    16, 28, 14, 14, 16, 16,
    16, 24, 76, 32, 30, 22,
    16, 66, 50, 56, 60, 58,
    72, 16, 58, 28, 34, 56,
    118, 148, 136, 102, 180, 52,
    102, 190, 174, 32, 46, 40,
    46, 38, 22, 16, 18, 18,
    14, 42, 20, 28, 96, 56,
    54, 90, 98, 44, 38, 80,
    64, 76, 64, 72, 86, 74,
    24, 46, 100, 66, 72, 82,
    100, 54, 62, 58, 50, 28,
    32, 40, 26, 64, 28, 28,
    44, 26, 84, 66, 50, 22,
    48, 60, 22, 18, 36, 60,
    52, 24, 22, 44, 42, 54,
    66, 32, 22, 20, 22, 16,
]
WHOLE_SITES = [
    (542, 442), (586, 437), (698, 435), (613, 472), (666, 454), (668, 485),
    (742, 493), (535, 494), (607, 551), (487, 536), (535, 569), (520, 590),
    (524, 549), (504, 563), (480, 565), (671, 576), (708, 564), (729, 564),
    (676, 523), (683, 558), (506, 1531), (462, 1479), (445, 1554), (590, 1554),
    (558, 1557), (494, 644), (568, 630), (557, 693), (483, 722), (474, 788),
    (83, 1178), (233, 1145), (556, 800), (505, 831), (511, 865), (567, 861),
    (555, 978), (677, 1090), (862, 1121), (312, 1205), (497, 1221), (775, 1216),
    (689, 1278), (864, 1378), (620, 1440), (391, 1362), (470, 1404), (762, 1512),
    (721, 1549), (815, 1544), (485, 1440), (893, 1238), (917, 1247), (599, 1333),
    (715, 1370), (598, 750), (875, 1535), (909, 1548), (1339, 56), (1303, 130),
    (1458, 142), (1366, 189), (1478, 228), (1306, 242), (1325, 281), (1398, 293),
    (1316, 331), (1511, 323), (1391, 354), (1518, 407), (1318, 444), (1414, 437),
    (1445, 465), (1534, 510), (1411, 549), (1524, 583), (1076, 651), (1204, 573),
    (1091, 568), (1300, 592), (1359, 640), (1435, 648), (1278, 539), (1327, 545),
    (1156, 625), (1219, 643), (1277, 641), (1160, 674), (1067, 748), (1028, 782),
    (1067, 808), (1303, 664), (992, 703), (970, 610), (904, 640), (918, 670),
    (869, 600), (831, 543), (887, 554), (878, 522), (922, 573), (983, 543),
    (920, 504), (1446, 94), (1425, 69), (1407, 114), (1475, 45), (1532, 36),
    (1523, 104), (1544, 179), (1441, 22), (1467, 12), (1399, 11), (1553, 214),
]

# block name, left, top, x scale, y scale of the crop each list was read from
BLOCKS = [
    (PURPLE_NAMES, PURPLE_WIDTHS, PURPLE_SITES, 0, 0, 900 / 1568, 900 / 1568),
    (MAROON_NAMES, MAROON_WIDTHS, MAROON_SITES, 800, 0, 600 / 1568, 700 / 1568),
    (NAVY_NAMES, NAVY_WIDTHS, NAVY_SITES, 2000, 1800, 1 / 3, 712 / 1568),
    (BROWN_NAMES, BROWN_WIDTHS, BROWN_SITES, 0, 1900, 700 / 1568, 612 / 1568),
    (ATP_NAMES, ATP_WIDTHS, ATP_SITES, 0, 1030, 800 / 1568, 800 / 1568),
    (GOLD_NAMES, GOLD_WIDTHS, GOLD_SITES, 950, 900, 800 / 1568, 800 / 1568),
    (BLUE_NAMES, BLUE_WIDTHS, BLUE_SITES, 1712, 1100, 800 / 1568, 800 / 1568),
    (PINK_NAMES, PINK_WIDTHS, PINK_SITES, 0, 720, 800 / 1568, 1 / 3),
    (YELLOW_NAMES, YELLOW_WIDTHS, YELLOW_SITES, 1500, 1650, 700 / 1568, 862 / 1568),
    (RIBO_NAMES, RIBO_WIDTHS, RIBO_SITES, 1300, 0, 800 / 1568, 800 / 1568),
    (WHOLE_NAMES, WHOLE_WIDTHS, WHOLE_SITES, 0, 0, MAIN, MAIN),
]

# ---- group outlines (1568 px view) and their cell tints, base tint first
GROUPS = {
    "purple": ([(7, 7), (458, 7), (525, 91), (564, 373), (466, 534), (68, 505), (7, 459)],
               ["#7b4a7e", "#7d4678", "#724f80", "#80507f", "#7c3f7c", "#70507a"]),
    "toppink": ([(458, 7), (612, 7), (525, 91)],
                ["#a5667f", "#b0607a", "#9c6084"]),
    "maroon": ([(525, 91), (612, 7), (688, 7), (799, 74), (838, 120), (809, 408), (564, 373)],
               ["#5c3950", "#5a3e48", "#5c3450", "#63353f", "#553a52"]),
    "toppurple": ([(688, 7), (849, 7), (845, 42), (799, 74)],
                  ["#6e3a6c", "#7a3d70", "#6a3866"]),
    "violet": ([(799, 74), (845, 42), (838, 120)], ["#5c3e80", "#66408a"]),
    "actin": ([(564, 373), (809, 408), (795, 568), (480, 602), (466, 534)],
              ["#3e3038", "#473740", "#3a3040", "#402a3c"]),
    "mpg": ([(7, 459), (68, 505), (65, 650), (7, 657)],
            ["#a56fa0", "#9d679f", "#ab74a2"]),
    "pink": ([(68, 505), (466, 534), (480, 602), (65, 650)],
             ["#b8849e", "#b87a9c", "#c07ba0", "#a97c94", "#b17a96"]),
    "ribo": ([(849, 7), (1418, 7), (1561, 238), (1561, 715), (1285, 857), (1097, 872),
              (795, 568), (809, 408)],
             ["#8fa7aa", "#92aea8", "#98a4b8", "#8aa5ab", "#93a3a8", "#9aa3ab"]),
    "histone": ([(1418, 7), (1561, 7), (1561, 238)],
                ["#2f4a60", "#35486e", "#2e4a5e"]),
    "polymerase": ([(1561, 715), (1285, 857), (1305, 968), (1561, 988)],
                   ["#5f9fb8", "#6aaabb", "#5f9ac0", "#4fa0b0", "#6ba1c0"]),
    "rim": ([(1097, 872), (1285, 857), (1305, 968), (1258, 1037)],
            ["#2f5f88", "#2d5a85", "#24506f", "#2e5f78"]),
    "steel": ([(1305, 968), (1561, 988), (1561, 1120), (1375, 1155), (1258, 1037)],
              ["#4f8a9f", "#4b7f9c", "#4a88a0", "#5a87a8", "#4d8f98"]),
    "dark": ([(1375, 1155), (1561, 1120), (1561, 1561), (1305, 1561)],
             ["#122c3c", "#15303f", "#152a48", "#1a3838", "#162a38"]),
    "amino": ([(603, 590), (795, 568), (1097, 872), (1258, 1037), (1292, 1075), (1101, 1235), (592, 705)],
              ["#f5b52e", "#f6b232", "#f3b02a", "#eebf34", "#f9b52e"]),
    "purine": ([(1101, 1235), (1292, 1075), (1375, 1155), (1312, 1520), (1082, 1315)],
               ["#fcc438", "#f9c33b", "#f6cb3b", "#ffc040"]),
    "atp": ([(7, 655), (480, 602), (603, 590), (592, 705), (245, 1103), (7, 1000)],
            ["#fca93a", "#ffa838", "#fba53a", "#f9ae36", "#f7ab33"]),
    "sam": ([(7, 1000), (245, 1103), (252, 1285), (202, 1330), (7, 1318)],
            ["#fba520", "#ffa31c", "#f6aa2b", "#f89d1a"]),
    "glyco": ([(592, 705), (1101, 1235), (1082, 1315), (880, 1561), (624, 1561),
               (252, 1285), (245, 1103)],
              ["#ee8612", "#ef8713", "#ee850f", "#f37d12", "#e2771c", "#e47c0a"]),
    "por": ([(1082, 1315), (1312, 1520), (1305, 1561), (880, 1561)],
            ["#7d3a07", "#8a3a07", "#903f05", "#7a4008"]),
    "erg": ([(252, 1285), (624, 1561), (207, 1561), (202, 1330)],
            ["#6f2a04", "#612c04", "#74240a", "#662b06"]),
    "adh": ([(7, 1318), (202, 1330), (207, 1561), (7, 1561)],
            ["#c06207", "#b55a10", "#c55a00", "#bd6208"]),
}
THICK_LINES = [
    ([(849, 7), (809, 408), (795, 568), (1097, 872), (1258, 1037), (1375, 1155), (1305, 1561)], 5.0),
    ([(7, 655), (795, 568)], 4.2),
    ([(1375, 1155), (1561, 1120)], 4.2),
    ([(1097, 872), (1285, 857), (1561, 715)], 3.0),
]
SINGLE_LINE = {"PGUG_02054", "PGUG_04327"}
REGULAR = {
    "UBC4", "KOG0710", "0JE7Z", "PGUG_03867", "12PPD", "DYS1", "SSZ1", "CPR6", "0J0PV",
    "PGUG_01527", "SEC13", "TIM10", "SSO2", "SEC14", "SEC23", "RHO1", "0J2NU", "0IY6D",
    "0J3UC", "0J6ZR", "0J4HU", "PGUG_00829", "PGUG_00416", "PGUG_00623", "0J2AB", "BFR1",
    "PGUG_05084", "PGUG_02674", "ERG11", "19FXY", "PGUG_00805", "PGUG_04871",
    "FG00969.1", "FG02506.1", "KOG1355", "KOG0888", "ADE4", "GUA1", "URA5", "KOG1530",
    "CCP1", "MNSOD", "PGUG_01680", "FG03210.1", "KOG4093", "MAE1", "COX5A", "SDH1", "QCR7",
    "COQ6", "0JR6Y", "VMA5", "COX12", "GCV3", "HIS1", "GCV1", "HIS7", "PGUG_01631",
    "KOG4144", "19ETH", "POL30", "KOG0328", "0IQWN", "LSM5", "SNU13", "DCP2", "RSM10",
    "KRS1", "FG05999.1", "ARC1", "FG06924.1", "RPL2A", "DED1", "KOG3346", "NOP56", "HCR1",
    "NIP1", "FG00609.1", "FG00631.1", "FG08335.1", "FG05605.1", "FG04582.1", "GAR1", "SER1",
}


def clip(poly, a, b):
    """Keep the part of poly where a.x <= b."""
    out = []
    n = len(poly)
    for i in range(n):
        p, q = poly[i], poly[(i + 1) % n]
        dp, dq = a @ p - b, a @ q - b
        if dp <= 0:
            out.append(p)
        if dp * dq < 0:
            out.append(p + (q - p) * dp / (dp - dq))
    return np.array(out) if out else np.empty((0, 2))


def power_cells(outline, sites, radii):
    cells = []
    for i in range(len(sites)):
        poly = outline.copy()
        for j in np.argsort(np.hypot(*(sites - sites[i]).T)):
            if i == j or len(poly) == 0:
                continue
            a = 2 * (sites[j] - sites[i])
            b = sites[j] @ sites[j] - sites[i] @ sites[i] + radii[i] ** 2 - radii[j] ** 2
            poly = clip(poly, a, b)
        cells.append(poly)
    return cells


def gap_sites(cells, sites, radii):
    """Tiny unlabelled cells sit at junctions between small labelled cells."""
    found = []
    for cell in cells:
        for v in cell:
            powers = np.hypot(*(sites - v).T) ** 2 - radii ** 2
            order = np.argsort(powers)[:3]
            if not 30 < powers[order[0]] < 500:
                continue
            if np.sum(radii[order] < 55) < 2:
                continue
            if found and np.min(np.hypot(*(np.array(found) - v).T)) < 12:
                continue
            found.append(v)
    return np.array(found).reshape(-1, 2)


def label_text(name):
    if name.startswith("PGUG_") and name not in SINGLE_LINE:
        return name.replace("_", "_\n")
    return name


def font_size(text, weight, width):
    prop = FontProperties(family="DejaVu Sans", weight=weight)
    unit = max(TextPath((0, 0), line, size=10, prop=prop).get_extents().width
               for line in text.split("\n")) / 10
    return width / unit * 72 / 100


def group_of(site, outlines):
    for key, path in outlines.items():
        if path.contains_point(site):
            return key
    # sites read right on a border go to the closest outline
    best, best_d = None, np.inf
    for key, path in outlines.items():
        d = np.min(np.hypot(*(path.vertices - site).T))
        if d < best_d:
            best, best_d = key, d
    return best


def cell_tint(seed, tints, width):
    """Small cells wander further from the group's base tint than big ones."""
    base = np.array(to_rgb(tints[0]))
    other = np.array(to_rgb(tints[zlib.crc32(seed.encode()) % len(tints)]))
    amount = np.clip(1.0 - width / 260, 0.15, 0.8)
    return tuple(base + (other - base) * amount)


def main():
    outlines = {k: Path(np.array(v[0], float) * MAIN) for k, v in GROUPS.items()}
    members = {k: [] for k in GROUPS}
    for names, widths, sites, x0, y0, sx, sy in BLOCKS:
        for name, width, (x, y) in zip(names, widths, sites, strict=True):
            site = np.array([x0 + x * sx, y0 + y * sy])
            members[group_of(site, outlines)].append((name, width * sx, site))

    fig = plt.figure(figsize=(SIZE / 100, SIZE / 100), dpi=100, facecolor="black")
    ax = fig.add_axes([0, 0, 1, 1])
    ax.set_xlim(0, SIZE)
    ax.set_ylim(SIZE, 0)
    ax.axis("off")

    for key, items in members.items():
        outline, tints = GROUPS[key]
        outline = np.array(outline, float) * MAIN
        if not items:
            ax.fill(*outline.T, color=tints[0])
            continue
        sites = np.array([it[2] for it in items])
        factor = [0.8 if it[0].startswith("PGUG_") else 0.6 for it in items]
        radii = np.array([it[1] * f for it, f in zip(items, factor)])
        first = power_cells(outline, sites, radii)
        extra = gap_sites(first, sites, radii)
        all_sites = np.vstack([sites, extra])
        all_radii = np.concatenate([radii, np.zeros(len(extra))])
        cells = power_cells(outline, all_sites, all_radii)
        seeds = [f"{it[0]}{it[2][0]:.0f}" for it in items] + [f"gap{i}" for i in range(len(extra))]
        sizes = [it[1] for it in items] + [20] * len(extra)
        for seed, width, cell in zip(seeds, sizes, cells):
            if len(cell):
                ax.fill(*cell.T, facecolor=cell_tint(seed, tints, width),
                        edgecolor=(0, 0, 0, 0.42), lw=0.6, zorder=1)
        for name, width, site in items:
            text = label_text(name)
            weight = "normal" if name in REGULAR else "bold"
            fs = font_size(text, weight, width)
            off = 0.25 + fs * 0.018
            effects = [pe.SimpleLineShadow(offset=(off, -off), shadow_color="black", alpha=0.6)]
            if weight == "normal":
                effects.append(pe.withStroke(linewidth=0.2 + fs * 0.012, foreground="white"))
            else:
                effects.append(pe.Normal())
            ax.text(site[0], site[1], text, color="white", fontsize=fs, fontweight=weight,
                    family="DejaVu Sans", ha="center", va="center", linespacing=0.85,
                    zorder=4, path_effects=effects)
        ax.fill(*outline.T, facecolor="none", edgecolor="black", lw=2.0, zorder=2,
                joinstyle="miter")

    for points, lw in THICK_LINES:
        pts = np.array(points, float) * MAIN
        ax.plot(*pts.T, color="black", lw=lw, zorder=3, solid_joinstyle="miter")

    fig.savefig("out.png", dpi=100, facecolor="black")


if __name__ == "__main__":
    main()
